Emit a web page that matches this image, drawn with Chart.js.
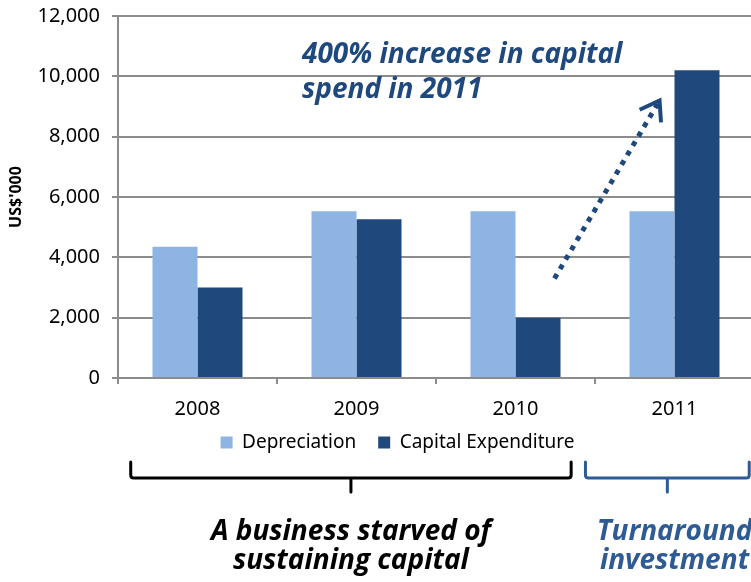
<!DOCTYPE html>
<html>
<head>
<meta charset="utf-8">
<script src="https://cdn.jsdelivr.net/npm/chart.js@4.4.0/dist/chart.umd.min.js"></script>
<style>
  html, body { margin: 0; padding: 0; background: #fff; overflow: hidden; }
  #wrap { width: 794px; height: 582px; }
</style>
</head>
<body>
<div id="wrap"><canvas id="capexChart" width="794" height="582"></canvas></div>
<script>
// Données (US$'000)
const years = ['2008', '2009', '2010', '2011'];
const depreciation = [4350, 5530, 5530, 5530];
const capitalExpenditure = [3000, 5260, 2000, 10200];
const yTicks = [0, 2000, 4000, 6000, 8000, 10000, 12000];

const lightBlue = '#8EB4E3';
const darkBlue = '#1F497D';
const bracketBlue = '#2e5b93';
const gridGrey = '#8c8c8c';
const font = '"Noto Sans", "Open Sans", sans-serif';
const noteFont = '"Open Sans", "Noto Sans", sans-serif';

// Flèche, textes et accolades dessinés par-dessus le graphique
const overlayPlugin = {
    id: 'overlay',
    afterLayout(chart) {
        // rapprocher la légende des étiquettes de l'axe X
        const lg = chart.legend;
        lg.top -= 10;
        lg.bottom -= 10;
        lg.left += 17;
        lg.right += 17;
    },
    afterDraw(chart) {
        const ctx = chart.ctx;
        const x = chart.scales.x;
        const y = chart.scales.y;
        const base = chart.chartArea.bottom;

        ctx.save();

        // Texte d'annotation
        ctx.fillStyle = darkBlue;
        ctx.font = 'italic bold 28px ' + noteFont;
        ctx.textAlign = 'left';
        ctx.textBaseline = 'middle';
        ctx.fillText('400% increase in capital', x.getPixelForValue(0.657), y.getPixelForValue(10700));
        ctx.fillText('spend in 2011', x.getPixelForValue(0.657), y.getPixelForValue(9550));

        // Flèche en pointillés
        const x0 = x.getPixelForValue(2.245), y0 = y.getPixelForValue(3300);
        const x1 = x.getPixelForValue(2.906), y1 = y.getPixelForValue(9200);
        ctx.strokeStyle = darkBlue;
        ctx.lineWidth = 5;
        ctx.setLineDash([5, 6]);
        ctx.beginPath();
        ctx.moveTo(x0, y0);
        ctx.lineTo(x1, y1);
        ctx.stroke();
        ctx.setLineDash([]);
        const ang = Math.atan2(y1 - y0, x1 - x0);
        ctx.lineWidth = 4;
        ctx.beginPath();
        ctx.moveTo(x1 - 22 * Math.cos(ang - 0.6), y1 - 22 * Math.sin(ang - 0.6));
        ctx.lineTo(x1, y1);
        ctx.lineTo(x1 - 22 * Math.cos(ang + 0.6), y1 - 22 * Math.sin(ang + 0.6));
        ctx.stroke();

        // Accolades
        function bracket(from, to, colour) {
            const a = x.getPixelForValue(from);
            const b = x.getPixelForValue(to);
            const m = (a + b) / 2;
            const top = base + 84, line = base + 100, tip = base + 114;
            ctx.strokeStyle = colour;
            ctx.lineWidth = 3;
            ctx.lineJoin = 'round';
            ctx.lineCap = 'round';
            ctx.beginPath();
            ctx.moveTo(a, top);
            ctx.lineTo(a, line - 3);
            ctx.quadraticCurveTo(a, line, a + 3, line);
            ctx.lineTo(b - 3, line);
            ctx.quadraticCurveTo(b, line, b, line - 3);
            ctx.lineTo(b, top);
            ctx.moveTo(m, line);
            ctx.lineTo(m, tip);
            ctx.stroke();
        }
        bracket(-0.42, 2.35, '#000000');
        bracket(2.44, 3.47, bracketBlue);

        // Légendes sous les accolades
        ctx.textAlign = 'center';
        ctx.font = 'italic bold 28px ' + noteFont;
        ctx.fillStyle = '#000000';
        const mid1 = (x.getPixelForValue(-0.42) + x.getPixelForValue(2.35)) / 2;
        ctx.fillText('A business starved of', mid1, base + 154);
        ctx.fillText('sustaining capital', mid1, base + 183);
        ctx.fillStyle = bracketBlue;
        const mid2 = x.getPixelForValue(3.0);
        ctx.fillText('Turnaround', mid2, base + 154);
        ctx.fillText('investment', mid2, base + 183);

        ctx.restore();
    }
};

new Chart(document.getElementById('capexChart'), {
    type: 'bar',
    data: {
        labels: years,
        datasets: [{
            label: 'Depreciation',
            data: depreciation,
            backgroundColor: lightBlue
        }, {
            label: 'Capital Expenditure',
            data: capitalExpenditure,
            backgroundColor: darkBlue
        }]
    },
    options: {
        responsive: false,
        animation: false,
        layout: { padding: { left: 7, right: 40, top: 16, bottom: 110 } },
        datasets: { bar: { categoryPercentage: 0.566, barPercentage: 1 } },
        plugins: {
            legend: {
                position: 'bottom',
                labels: {
                    boxWidth: 12,
                    boxHeight: 12,
                    padding: 22,
                    color: '#000',
                    font: { family: font, size: 19 }
                }
            },
            tooltip: { enabled: false }
        },
        scales: {
            x: {
                afterFit(axis) { axis.height = 43; },
                grid: { drawOnChartArea: false, color: gridGrey, lineWidth: 2, tickLength: 6 },
                border: { color: gridGrey, width: 2 },
                ticks: { color: '#000', padding: 13, font: { family: font, size: 20 } }
            },
            y: {
                min: 0,
                max: 12000,
                afterBuildTicks(axis) { axis.ticks = yTicks.map(v => ({ value: v })); },
                afterFit(axis) { axis.width = 111; axis.paddingTop = 0; axis.paddingBottom = 0; },
                grid: { color: gridGrey, lineWidth: 2, tickLength: 6 },
                border: { color: gridGrey, width: 2 },
                ticks: {
                    color: '#000',
                    padding: 12,
                    font: { family: font, size: 20 },
                    callback: v => v.toLocaleString('en-US')
                },
                title: {
                    display: true,
                    text: "US$'000",
                    color: '#000',
                    padding: { top: 0, bottom: 4 },
                    font: { family: font, size: 16, weight: 'bold' }
                }
            }
        }
    },
    plugins: [overlayPlugin]
});
</script>
</body>
</html>
